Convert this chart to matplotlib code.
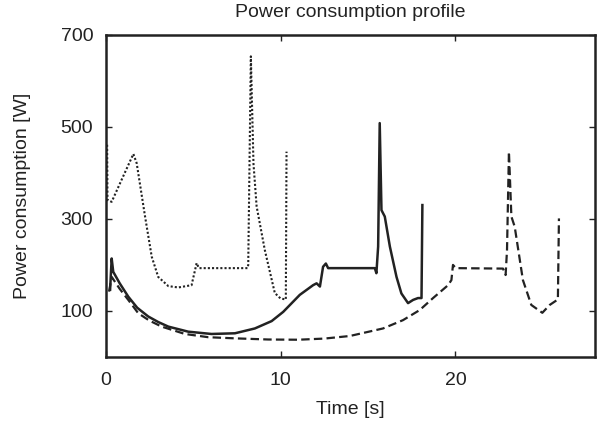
import matplotlib
matplotlib.use("Agg")
import matplotlib.pyplot as plt

plt.rcParams['font.family'] = ['Liberation Sans', 'DejaVu Sans']

# Dotted series
t_dot = [0.08, 0.1, 0.34, 0.91, 1.58, 1.77, 2.25, 2.63, 3.0, 3.58, 4.15, 4.91, 5.0,
         5.2, 5.33, 8.11, 8.15, 8.3, 8.45, 8.63, 9.1, 9.67, 10.0, 10.3, 10.34]
p_dot = [461, 341, 337, 385, 441, 421, 305, 218, 174, 154, 151, 156, 171,
         204, 193, 193, 200, 653, 420, 327, 232, 139, 127, 125, 446]

# Solid series
t_sol = [0.25, 0.34, 0.43, 0.8, 1.29, 1.8, 2.43, 3.0, 3.58, 4.72, 6.05, 7.39, 8.53, 9.49, 10.15,
         11.1, 11.86, 12.06, 12.25, 12.43, 12.59, 12.72, 15.39, 15.48, 15.58, 15.67,
         15.77, 15.96, 16.25, 16.63, 16.91, 17.29, 17.58, 17.86, 18.06, 18.11]
p_sol = [146, 214, 185, 160, 131, 107, 88, 76, 66, 55, 50, 51.5, 62, 78, 98,
         135, 156, 160, 153, 196, 203, 193, 193, 182, 240, 508,
         319, 305, 240, 174, 138, 117, 124, 128, 128, 330]

# Dashed series
t_das = [0.19, 0.34, 0.8, 1.29, 1.86, 2.5, 3.2, 4.53, 5.86, 7.39, 9.3, 11.0, 12.5, 13.96, 15.86,
         17.0, 17.96, 18.72, 19.58, 19.77, 19.86, 20.02, 22.72, 22.87, 22.95, 23.06,
         23.2, 23.39, 23.86, 24.34, 24.97, 25.39, 25.86, 25.92]
p_das = [142, 174, 148, 124, 95, 79, 66, 50, 43, 40.5, 38, 37.5, 40, 45.6, 62,
         80, 102, 128, 156, 167, 200, 193, 192, 178, 232, 446,
         305, 283, 167, 113, 96, 113, 125, 301]

x_ticks = [0, 10, 20]
y_ticks = [100, 300, 500, 700]

fig = plt.figure(figsize=(5.98, 4.36), dpi=100)
ax = fig.add_axes([0.1768, 0.1812, 0.8187, 0.7392])

col = '#222222'
ax.plot(t_dot, p_dot, color=col, lw=1.5, linestyle=(0, (1, 1)))
ax.plot(t_sol, p_sol, color=col, lw=1.8, linestyle='-')
ax.plot(t_das, p_das, color=col, lw=1.6, linestyle=(0, (3.8, 1.9)))

ax.set_xlim(0, 28)
ax.set_ylim(0, 700)
ax.set_xticks(x_ticks)
ax.set_yticks(y_ticks)
ax.tick_params(direction='in', length=4, width=1, top=True, right=True,
               labelsize=14, colors='#222222')
ax.tick_params(axis='x', pad=11)
ax.tick_params(axis='y', pad=9)
for s in ax.spines.values():
    s.set_linewidth(1.8)
    s.set_color('#222222')

ax.set_title('Power consumption profile', fontsize=14, color='#222222',
             y=1.068, va='center', pad=0)
ax.set_xlabel('Time [s]', fontsize=14, color='#222222')
ax.set_ylabel('Power consumption [W]', fontsize=14, color='#222222')
ax.xaxis.set_label_coords(0.5, -0.164)
ax.yaxis.set_label_coords(-0.171, 0.5)
ax.xaxis.label.set_va('center')
ax.yaxis.label.set_va('center')

fig.savefig('out.png', dpi=100)
